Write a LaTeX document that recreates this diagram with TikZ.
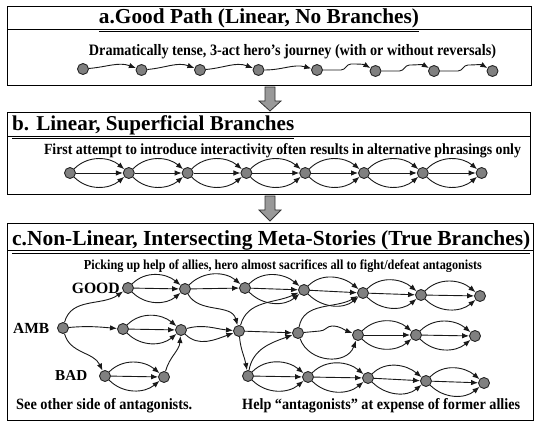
\documentclass[tikz,border=0pt]{standalone}
\usepackage{fontspec}
\usepackage{graphicx}
\setmainfont{Liberation Serif}
\usetikzlibrary{arrows.meta,calc}
\newcommand\tripleto[2]{%
  \draw[arr] (#1) to[out=45,in=140] (#2);
  \draw[arr] (#1) -- (#2);
  \draw[arr] (#1) to[out=-45,in=-140] (#2);}
\newcommand\doubleto[2]{%
  \draw[arr] (#1) to[out=45,in=140] (#2);
  \draw[arr] (#1) -- (#2);}
\begin{document}
\begin{tikzpicture}[x=1pt,y=1pt,
  nd/.style={circle,draw=black!85,fill=black!50,minimum size=11pt,inner sep=0pt,line width=0.9pt},
  arr/.style={-{Latex[length=7pt,width=5.5pt]},line width=0.9pt,draw=black!90},
  frame/.style={draw=black,line width=1pt},
  blk/.style={draw=black!80,fill=black!40,line width=0.8pt},
  txt/.style={inner sep=0pt,anchor=base,font=\bfseries},
]
\useasboundingbox (0,0) rectangle (536,-422);

% ---------- frames ----------
\draw[frame] (7,-7) rectangle (531,-86);
\draw[frame] (7,-30) -- (531,-30);
\draw[frame] (7,-113) rectangle (530,-195);
\draw[frame] (7,-137) -- (530,-137);
\draw[frame] (7,-224) rectangle (533,-420);
\draw[frame] (7,-251) -- (533,-251);

% ---------- block arrows ----------
\draw[blk] (265,-87) -- (275,-87) -- (275,-101) -- (281,-101) -- (270,-111) -- (259,-101) -- (265,-101) -- cycle;
\draw[blk] (265,-196) -- (275,-196) -- (275,-210) -- (281,-210) -- (270,-221) -- (259,-210) -- (265,-210) -- cycle;

% ---------- titles ----------
\node[txt] (ta) at (259,-24) {\resizebox{320pt}{!}{\underline{a.Good Path (Linear, No Branches)}}};
\node[txt,anchor=base west] (tb) at (12,-131) {\resizebox{282pt}{!}{\underline{b. Linear, Superficial Branches}}};
\node[txt,anchor=base west] (tc) at (12,-245.5) {\resizebox{518pt}{!}{\underline{c.Non-Linear, Intersecting Meta-Stories (True Branches)}}};

\node[txt] (sa) at (292.5,-56) {\resizebox{407pt}{!}{\scalebox{1}[1.12]{Dramatically tense, 3-act hero’s journey (with or without reversals)}}};
\node[txt] (sb) at (282.5,-155) {\resizebox{477pt}{!}{\scalebox{1}[1.12]{First attempt to introduce interactivity often results in alternative phrasings only}}};
\node[txt] (sc) at (283,-269.5) {\resizebox{398pt}{!}{\scalebox{1}[1.12]{Picking up help of allies, hero almost sacrifices all to fight/defeat antagonists}}};

\node[txt,anchor=base east] (lgood) at (120,-293.5) {\resizebox{48pt}{!}{GOOD}};
\node[txt,anchor=base west] (lamb) at (13,-333.5) {\resizebox{36pt}{!}{AMB}};
\node[txt,anchor=base west] (lbad) at (55,-381) {\resizebox{32pt}{!}{BAD}};
\node[txt,anchor=base west] (bl) at (16,-409.5) {\resizebox{176pt}{!}{\scalebox{1}[1.1]{See other side of antagonists.}}};
\node[txt,anchor=base west] (br) at (242,-409.5) {\resizebox{278pt}{!}{\scalebox{1}[1.1]{Help “antagonists” at expense of former allies}}};

% ---------- panel a ----------
\foreach \i/\x/\y in {1/83/69,2/141.5/70,3/200/70,4/258.5/70,5/317/70,6/375.5/71,7/434/71,8/492.5/71}
  \node[nd] (a\i) at (\x,-\y) {};
\draw[arr] (a1) to[out=5,in=160] (a2);
\draw[arr] (a2) to[out=5,in=160] (a3);
\draw[arr] (a3) to[out=5,in=160] (a4);
\draw[arr] (a4) to[out=0,in=165] (a5);
\draw[arr] (a5) -- ++(24,0) to[out=0,in=180] ++(10,6) to[out=0,in=150] (a6);
\draw[arr] (a6) -- ++(24,0) to[out=0,in=180] ++(10,6) to[out=0,in=150] (a7);
\draw[arr] (a7) -- ++(24,0) to[out=0,in=180] ++(10,6) to[out=0,in=150] (a8);

% ---------- panel b ----------
\foreach \i in {1,...,8}
  \node[nd] (b\i) at ({70+58.8*(\i-1)},-173) {};
\foreach \i [evaluate=\i as \j using int(\i+1)] in {1,...,7}
  {\tripleto{b\i}{b\j}}

% ---------- panel c ----------
\foreach \n/\x/\y in {G1/128/288,G2/185/289,G3/245/288,G4/304/290,G5/363/293,G6/421/295,G7/480/296,
  A0/63/328,A1/123/329,A2/181/330,A3/239/331,A4/298/333,A5/358/335,A6/416/335,A7/475/336,
  B1/105/376,B2/164/377,R1/248/376,R2/308/377,R3/368/378,R4/426/381,R5/484/383}
  \node[nd] (\n) at (\x,-\y) {};

\draw[arr] (A0) to[out=75,in=-145] (G1);
\draw[arr] (A0) to[out=5,in=175] (A1);
\draw[arr] (A0) to[out=-75,in=115] (B1);
\tripleto{G1}{G2}
\tripleto{A1}{A2}
\tripleto{B1}{B2}
\draw[arr] (B2) to[out=75,in=-95] (A2);
\doubleto{G2}{G3}
\draw[arr] (G2) to[out=-60,in=105] (A3);
\draw[arr] (A2) to[out=15,in=175] (A3);
\draw[arr] (A2) to[out=-45,in=-160] (A3);
\tripleto{G3}{G4}
\draw[arr] (A3) to[out=75,in=-155] (G4);
\draw[arr] (A3) -- (A4);
\draw[arr] (A3) to[out=-85,in=100] (R1);
\draw[arr] (R1) to[out=80,in=-160] (A4);
\tripleto{G4}{G5}
\draw[arr] (A4) to[out=80,in=-150] (G5);
\draw[arr] (A4) -- ++(22,2) to[out=0,in=180] ++(12,5) to[out=0,in=160] (A5);
\draw[arr] (A4) to[out=-70,in=-110,looseness=1.2] (A5);
\tripleto{G5}{G6}
\tripleto{G6}{G7}
\tripleto{A5}{A6}
\tripleto{A6}{A7}
\tripleto{R1}{R2}
\tripleto{R2}{R3}
\tripleto{R3}{R4}
\tripleto{R4}{R5}
\end{tikzpicture}
\end{document}
